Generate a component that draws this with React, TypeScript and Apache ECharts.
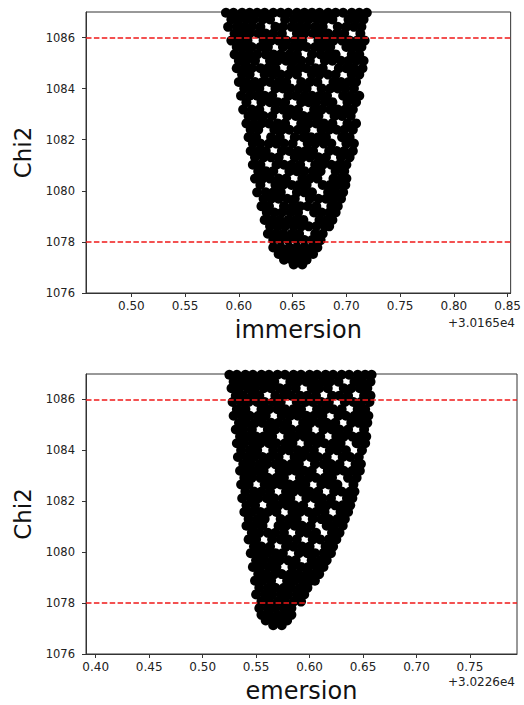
import React, { useEffect, useRef } from "react";
import * as echarts from "echarts";

const FONT = '"DejaVu Sans", "Liberation Sans", sans-serif';

// Tick labels
const chi2Ticks = [1076, 1078, 1080, 1082, 1084, 1086];
const immersionTicks = [0.5, 0.55, 0.6, 0.65, 0.7, 0.75, 0.8, 0.85];
const emersionTicks = [0.4, 0.45, 0.5, 0.55, 0.6, 0.65, 0.7, 0.75];
// Reference chi2 levels (red dashed lines)
const chi2Limits = [1086, 1078];
// Axis offsets shown under the x axes
const immersionOffset = "+3.0165e4";
const emersionOffset = "+3.0226e4";

// Samples, grouped by chi2 level (x shown relative to the offset)
const immersionChi2 = [1086.97, 1086.71, 1086.42, 1086.16, 1085.88, 1085.63, 1085.34, 1085.09, 1084.8, 1084.55, 1084.26, 1084.01, 1083.72, 1083.47, 1083.18, 1082.93, 1082.64, 1082.39, 1082.1, 1081.85, 1081.56, 1081.31, 1081.02, 1080.77, 1080.48, 1080.23, 1079.94, 1079.69, 1079.4, 1079.15, 1078.86, 1078.61, 1078.32, 1078.07, 1077.78, 1077.53, 1077.3, 1077.12];
const immersionSamples = [
  [0.588, 0.595, 0.603, 0.61, 0.617, 0.624, 0.632, 0.639, 0.646, 0.654, 0.661, 0.668, 0.675, 0.683, 0.69, 0.697, 0.705, 0.712, 0.719],
  [0.593, 0.6, 0.607, 0.614, 0.622, 0.629, 0.643, 0.651, 0.658, 0.665, 0.673, 0.68, 0.687, 0.702, 0.709, 0.716],
  [0.59, 0.598, 0.605, 0.612, 0.62, 0.634, 0.641, 0.649, 0.656, 0.663, 0.671, 0.678, 0.692, 0.7, 0.707, 0.714],
  [0.596, 0.603, 0.61, 0.618, 0.625, 0.632, 0.64, 0.654, 0.661, 0.669, 0.676, 0.683, 0.691, 0.698, 0.713],
  [0.593, 0.601, 0.608, 0.623, 0.63, 0.637, 0.644, 0.652, 0.659, 0.674, 0.681, 0.688, 0.696, 0.703, 0.71, 0.717],
  [0.598, 0.605, 0.612, 0.62, 0.627, 0.641, 0.649, 0.656, 0.663, 0.671, 0.678, 0.685, 0.7, 0.707, 0.714],
  [0.596, 0.603, 0.61, 0.617, 0.625, 0.632, 0.639, 0.647, 0.654, 0.668, 0.676, 0.683, 0.69, 0.705, 0.712],
  [0.6, 0.607, 0.615, 0.629, 0.636, 0.644, 0.651, 0.658, 0.666, 0.68, 0.687, 0.695, 0.702, 0.709, 0.716],
  [0.598, 0.605, 0.612, 0.62, 0.627, 0.634, 0.649, 0.656, 0.663, 0.671, 0.678, 0.693, 0.7, 0.707, 0.715],
  [0.603, 0.61, 0.624, 0.632, 0.639, 0.646, 0.654, 0.668, 0.675, 0.683, 0.69, 0.705, 0.712],
  [0.6, 0.607, 0.615, 0.622, 0.629, 0.637, 0.644, 0.658, 0.666, 0.673, 0.688, 0.695, 0.702, 0.709],
  [0.605, 0.612, 0.619, 0.634, 0.641, 0.648, 0.656, 0.663, 0.677, 0.685, 0.692, 0.699, 0.707],
  [0.602, 0.61, 0.617, 0.624, 0.631, 0.646, 0.653, 0.661, 0.668, 0.675, 0.682, 0.697, 0.704, 0.712],
  [0.607, 0.621, 0.629, 0.636, 0.643, 0.658, 0.665, 0.672, 0.68, 0.687, 0.701, 0.709],
  [0.604, 0.612, 0.619, 0.634, 0.641, 0.648, 0.655, 0.67, 0.677, 0.685, 0.692, 0.699, 0.706],
  [0.609, 0.616, 0.623, 0.631, 0.645, 0.653, 0.66, 0.667, 0.674, 0.689, 0.696, 0.704],
  [0.607, 0.614, 0.621, 0.628, 0.636, 0.643, 0.658, 0.665, 0.672, 0.679, 0.687, 0.701, 0.709],
  [0.611, 0.618, 0.633, 0.64, 0.647, 0.655, 0.662, 0.677, 0.684, 0.691, 0.698, 0.706],
  [0.609, 0.616, 0.63, 0.638, 0.652, 0.66, 0.667, 0.674, 0.681, 0.696, 0.703],
  [0.613, 0.62, 0.628, 0.635, 0.642, 0.65, 0.664, 0.671, 0.679, 0.686, 0.7, 0.707],
  [0.611, 0.618, 0.625, 0.64, 0.647, 0.655, 0.662, 0.669, 0.684, 0.691, 0.698, 0.706],
  [0.615, 0.623, 0.63, 0.637, 0.652, 0.659, 0.666, 0.674, 0.681, 0.695, 0.703],
  [0.613, 0.62, 0.635, 0.642, 0.649, 0.657, 0.671, 0.678, 0.686, 0.693, 0.7],
  [0.618, 0.625, 0.632, 0.647, 0.654, 0.661, 0.669, 0.676, 0.69, 0.698],
  [0.615, 0.622, 0.629, 0.637, 0.644, 0.659, 0.666, 0.673, 0.688, 0.695, 0.7],
  [0.62, 0.634, 0.641, 0.649, 0.656, 0.663, 0.678, 0.685, 0.692, 0.699],
  [0.617, 0.625, 0.632, 0.639, 0.654, 0.661, 0.668, 0.683, 0.69, 0.697],
  [0.623, 0.63, 0.637, 0.645, 0.652, 0.666, 0.674, 0.681, 0.688, 0.695],
  [0.621, 0.628, 0.642, 0.65, 0.657, 0.664, 0.672, 0.686, 0.692],
  [0.626, 0.633, 0.64, 0.648, 0.655, 0.67, 0.677, 0.684, 0.69],
  [0.624, 0.631, 0.638, 0.646, 0.653, 0.66, 0.675, 0.682, 0.687],
  [0.629, 0.636, 0.643, 0.651, 0.658, 0.665, 0.672, 0.68, 0.684],
  [0.627, 0.634, 0.641, 0.649, 0.656, 0.671, 0.678],
  [0.632, 0.639, 0.646, 0.654, 0.661, 0.668, 0.676],
  [0.632, 0.639, 0.647, 0.654, 0.661, 0.668, 0.673],
  [0.637, 0.644, 0.651, 0.658, 0.665, 0.669],
  [0.642, 0.649, 0.656, 0.663],
  [0.651, 0.659],
];

const emersionChi2 = [1086.97, 1086.7, 1086.44, 1086.15, 1085.9, 1085.62, 1085.36, 1085.08, 1084.82, 1084.54, 1084.28, 1084.0, 1083.74, 1083.46, 1083.2, 1082.92, 1082.66, 1082.38, 1082.12, 1081.84, 1081.58, 1081.3, 1081.04, 1080.76, 1080.5, 1080.22, 1079.96, 1079.68, 1079.42, 1079.14, 1078.88, 1078.6, 1078.34, 1078.06, 1077.8, 1077.54, 1077.32, 1077.13];
const emersionSamples = [
  [0.525, 0.532, 0.54, 0.547, 0.555, 0.562, 0.57, 0.577, 0.585, 0.592, 0.6, 0.607, 0.615, 0.622, 0.63, 0.637, 0.645, 0.652, 0.658],
  [0.529, 0.537, 0.544, 0.552, 0.559, 0.567, 0.582, 0.589, 0.597, 0.604, 0.612, 0.619, 0.627, 0.642, 0.649, 0.657],
  [0.527, 0.534, 0.542, 0.549, 0.557, 0.564, 0.572, 0.579, 0.587, 0.602, 0.609, 0.617, 0.632, 0.639, 0.647, 0.654],
  [0.531, 0.538, 0.546, 0.553, 0.568, 0.576, 0.583, 0.591, 0.598, 0.606, 0.621, 0.628, 0.636, 0.651, 0.657],
  [0.528, 0.536, 0.543, 0.551, 0.558, 0.566, 0.573, 0.588, 0.596, 0.603, 0.611, 0.618, 0.633, 0.641, 0.648, 0.656],
  [0.532, 0.54, 0.555, 0.562, 0.57, 0.577, 0.585, 0.592, 0.607, 0.615, 0.622, 0.63, 0.645, 0.652],
  [0.529, 0.537, 0.544, 0.552, 0.559, 0.574, 0.582, 0.589, 0.597, 0.604, 0.612, 0.627, 0.634, 0.642, 0.649, 0.655],
  [0.534, 0.541, 0.549, 0.556, 0.564, 0.571, 0.579, 0.594, 0.601, 0.609, 0.616, 0.624, 0.639, 0.646, 0.654],
  [0.531, 0.538, 0.546, 0.561, 0.568, 0.576, 0.583, 0.591, 0.598, 0.613, 0.621, 0.628, 0.636, 0.651],
  [0.535, 0.542, 0.55, 0.557, 0.565, 0.58, 0.587, 0.595, 0.602, 0.61, 0.625, 0.632, 0.64, 0.647, 0.653],
  [0.532, 0.539, 0.547, 0.554, 0.562, 0.569, 0.577, 0.584, 0.599, 0.607, 0.614, 0.622, 0.629, 0.644, 0.652],
  [0.536, 0.544, 0.551, 0.566, 0.574, 0.581, 0.589, 0.596, 0.604, 0.619, 0.626, 0.634, 0.649],
  [0.533, 0.541, 0.548, 0.556, 0.563, 0.571, 0.586, 0.593, 0.601, 0.608, 0.616, 0.631, 0.638, 0.646],
  [0.538, 0.545, 0.553, 0.56, 0.568, 0.575, 0.583, 0.59, 0.605, 0.613, 0.62, 0.628, 0.643, 0.648],
  [0.535, 0.542, 0.55, 0.557, 0.572, 0.58, 0.587, 0.595, 0.602, 0.617, 0.625, 0.632, 0.64, 0.647],
  [0.539, 0.546, 0.554, 0.561, 0.569, 0.576, 0.591, 0.599, 0.606, 0.614, 0.621, 0.636, 0.644],
  [0.536, 0.543, 0.558, 0.566, 0.573, 0.581, 0.588, 0.596, 0.611, 0.618, 0.626, 0.641],
  [0.54, 0.548, 0.555, 0.563, 0.578, 0.585, 0.593, 0.6, 0.608, 0.623, 0.63, 0.638, 0.642],
  [0.537, 0.545, 0.552, 0.56, 0.567, 0.575, 0.582, 0.597, 0.605, 0.612, 0.62, 0.635, 0.64],
  [0.541, 0.549, 0.564, 0.571, 0.579, 0.586, 0.594, 0.609, 0.616, 0.624, 0.631, 0.638],
  [0.539, 0.546, 0.554, 0.561, 0.569, 0.584, 0.591, 0.599, 0.606, 0.614, 0.629, 0.636],
  [0.543, 0.551, 0.558, 0.573, 0.581, 0.588, 0.603, 0.611, 0.618, 0.626, 0.633],
  [0.541, 0.548, 0.556, 0.571, 0.578, 0.586, 0.593, 0.601, 0.616, 0.623, 0.631],
  [0.546, 0.553, 0.561, 0.568, 0.576, 0.591, 0.598, 0.606, 0.621, 0.628],
  [0.543, 0.55, 0.565, 0.573, 0.58, 0.588, 0.603, 0.61, 0.618, 0.625],
  [0.548, 0.555, 0.563, 0.578, 0.585, 0.593, 0.6, 0.615, 0.622],
  [0.545, 0.553, 0.56, 0.568, 0.575, 0.59, 0.598, 0.605, 0.613, 0.62],
  [0.55, 0.557, 0.565, 0.572, 0.58, 0.587, 0.602, 0.61, 0.616],
  [0.547, 0.554, 0.562, 0.569, 0.584, 0.592, 0.599, 0.607, 0.613],
  [0.552, 0.559, 0.567, 0.574, 0.582, 0.589, 0.597, 0.604, 0.609],
  [0.549, 0.556, 0.564, 0.579, 0.586, 0.594, 0.601, 0.605],
  [0.553, 0.561, 0.568, 0.576, 0.583, 0.591, 0.598],
  [0.55, 0.558, 0.565, 0.573, 0.58, 0.588, 0.595],
  [0.555, 0.562, 0.57, 0.577, 0.585, 0.592],
  [0.553, 0.561, 0.568, 0.576, 0.583],
  [0.555, 0.562, 0.57, 0.577, 0.583],
  [0.559, 0.566, 0.572, 0.579],
  [0.566, 0.574],
];

function toPoints(levels: number[], samples: number[][]) {
  return levels.flatMap((c, i) => samples[i].map((x) => [x, c]));
}

function xAxisFor(gridIndex: number, min: number, max: number, name: string, ticks: number[]) {
  return {
    type: "value",
    gridIndex,
    min,
    max,
    name,
    nameLocation: "middle",
    nameGap: 25,
    nameTextStyle: { fontFamily: FONT, fontSize: 24, color: "#111" },
    axisLine: { show: true, lineStyle: { color: "#333", width: 1 } },
    splitLine: { show: false },
    axisTick: { show: true, inside: false, length: 4, customValues: ticks, lineStyle: { color: "#333" } },
    axisLabel: {
      customValues: ticks,
      formatter: (v: number) => v.toFixed(2),
      fontFamily: FONT,
      fontSize: 12,
      color: "#222",
      margin: 7,
    },
  };
}

function yAxisFor(gridIndex: number) {
  return {
    type: "value",
    gridIndex,
    min: 1076,
    max: 1087,
    name: "Chi2",
    nameLocation: "middle",
    nameGap: 50,
    nameTextStyle: { fontFamily: FONT, fontSize: 23, color: "#111" },
    axisLine: { show: true, lineStyle: { color: "#333", width: 1 } },
    splitLine: { show: false },
    axisTick: { show: true, inside: false, length: 4, customValues: chi2Ticks, lineStyle: { color: "#333" } },
    axisLabel: {
      customValues: chi2Ticks,
      formatter: (v: number) => String(Math.round(v)),
      fontFamily: FONT,
      fontSize: 11.5,
      color: "#222",
      margin: 11,
    },
  };
}

function scatterFor(index: number, data: number[][]) {
  return {
    type: "scatter",
    xAxisIndex: index,
    yAxisIndex: index,
    data,
    symbol: "circle",
    symbolSize: 10,
    itemStyle: { color: "#000", opacity: 1 },
    silent: true,
    markLine: {
      silent: true,
      symbol: ["none", "none"],
      label: { show: false },
      lineStyle: { color: "#f01818", type: [5.5, 2.4], width: 1.5 },
      data: chi2Limits.map((v) => ({ yAxis: v })),
    },
  };
}

export default function App() {
  const ref = useRef<HTMLDivElement>(null);
  useEffect(() => {
    if (!ref.current) return;
    const chart = echarts.init(ref.current, undefined, { renderer: "svg" });
    const gridBase = { show: true, borderColor: "#333", borderWidth: 1, backgroundColor: "#fff", containLabel: false };
    chart.setOption({
      animation: false,
      backgroundColor: "#fff",
      textStyle: { fontFamily: FONT },
      grid: [
        { ...gridBase, left: 86, top: 12, width: 431, height: 281 },
        { ...gridBase, left: 86, top: 374, width: 431, height: 280 },
      ],
      xAxis: [
        xAxisFor(0, 0.4578, 0.8528, "immersion", immersionTicks),
        xAxisFor(1, 0.3909, 0.794, "emersion", emersionTicks),
      ],
      yAxis: [yAxisFor(0), yAxisFor(1)],
      series: [
        scatterFor(0, toPoints(immersionChi2, immersionSamples)),
        scatterFor(1, toPoints(emersionChi2, emersionSamples)),
      ],
      graphic: [
        { type: "text", right: 9, top: 317, style: { text: immersionOffset, font: `12px ${FONT}`, fill: "#222" } },
        { type: "text", right: 9, top: 676, style: { text: emersionOffset, font: `12px ${FONT}`, fill: "#222" } },
      ],
    });
    return () => chart.dispose();
  }, []);
  return (
    <div
      ref={ref}
      style={{ position: "absolute", left: 0, top: 0, width: 524, height: 705, background: "#fff" }}
    />
  );
}
